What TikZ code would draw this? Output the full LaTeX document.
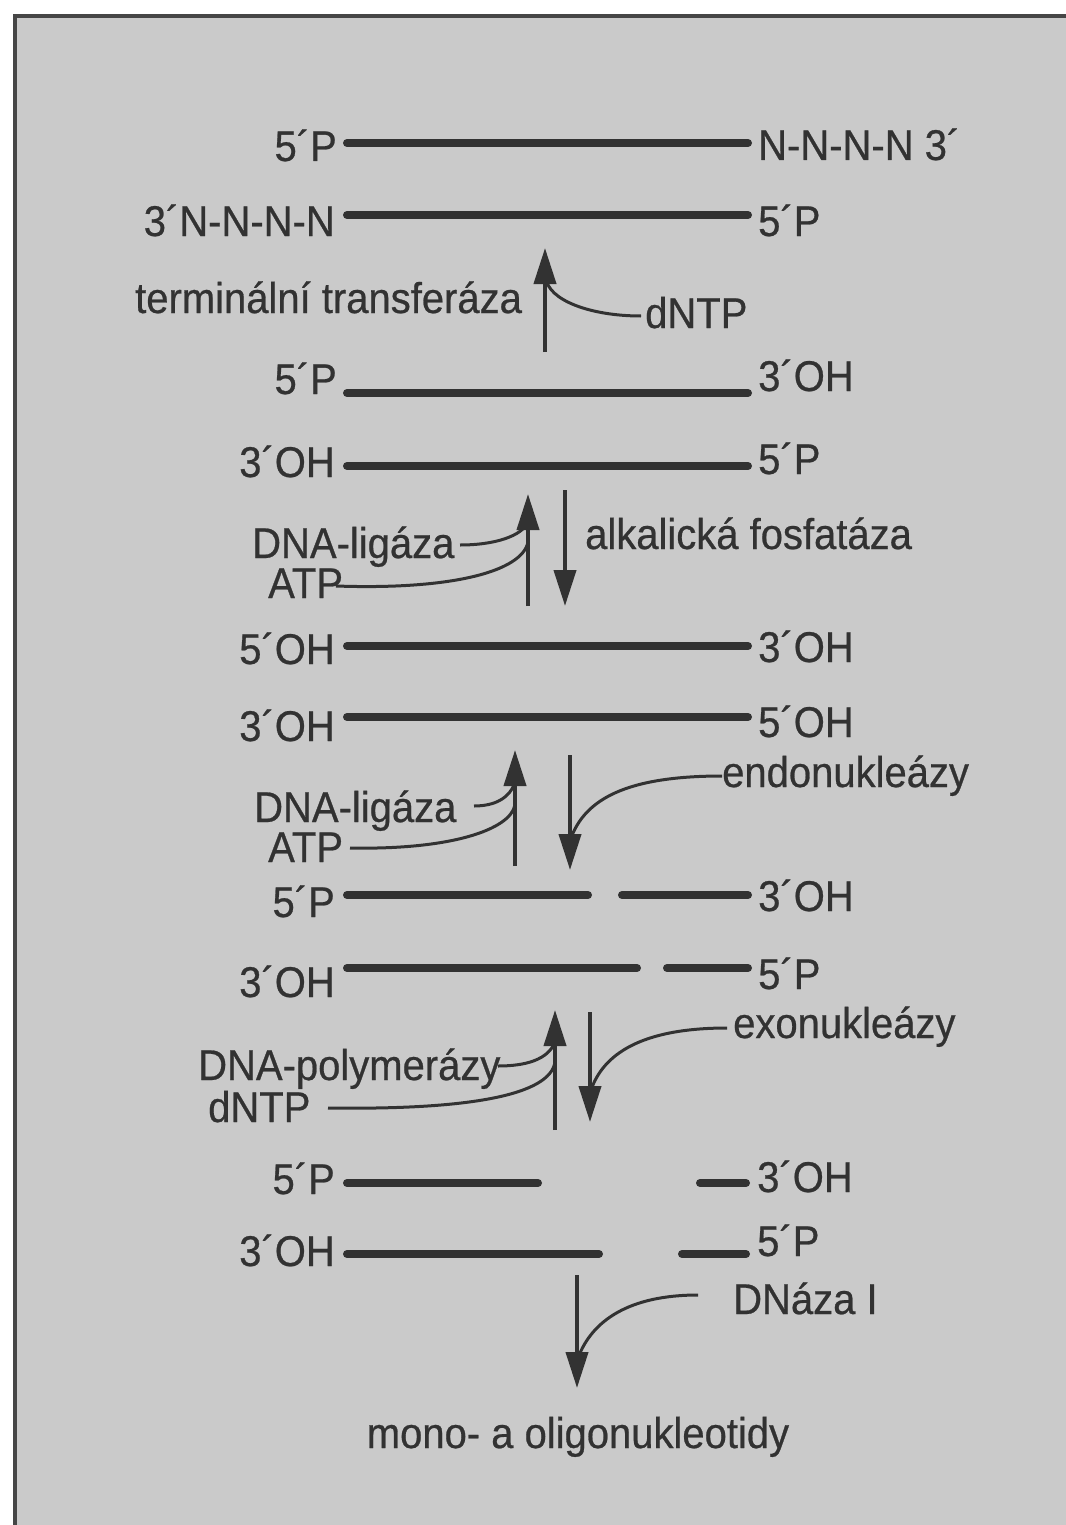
\documentclass[tikz,border=0pt]{standalone}
\usepackage{fontspec}
\setmainfont{Liberation Sans}[FakeStretch=0.93,FakeBold=0.6]
\usetikzlibrary{arrows.meta}
\definecolor{bg}{RGB}{202,202,202}
\definecolor{ink}{RGB}{50,50,50}
\definecolor{frame}{RGB}{70,70,70}
\begin{document}
\begin{tikzpicture}[x=1pt,y=-1pt,
  lab/.style={inner sep=0pt,text=ink,font=\fontsize{43}{50}\selectfont},
  ll/.style={lab,anchor=base east},
  rl/.style={lab,anchor=base west},
  strand/.style={draw=ink,line width=8pt,line cap=round},
  flow/.style={draw=ink,line width=4pt,-{Triangle[length=36pt,width=22pt]}},
  feed/.style={draw=ink,line width=3pt}]
\useasboundingbox (0,0) rectangle (1065,1525);
\fill[white] (0,0) rectangle (1065,1525);
\fill[bg] (15,16) rectangle (1075,1535);
\draw[frame,line width=4pt] (1075,16) -- (15,16) -- (15,1535);

% row 1-2
\node[ll] (l1) at (337,161) {5´P};
\node[rl] (r1) at (758,160) {N-N-N-N 3´};
\draw[strand] (347,143) -- (748,143);
\node[ll] (l2) at (335,236) {3´N-N-N-N};
\node[rl] (r2) at (758,236) {5´P};
\draw[strand] (347,215) -- (748,215);

% step 1
\coordinate (a1s) at (545,352);
\coordinate (a1e) at (545,248);
\draw[flow] (a1s) -- (a1e);
\node[rl] (tt) at (135,313) {terminální transferáza};
\node[rl] (dn1) at (645,328) {dNTP};
\draw[feed] (641,316) .. controls (590,316) and (548,300) .. (546,278);

% row 3-4
\node[ll] (l3) at (337,394) {5´P};
\node[rl] (r3) at (758,391) {3´OH};
\draw[strand] (347,393) -- (748,393);
\node[ll] (l4) at (335,477) {3´OH};
\node[rl] (r4) at (758,474) {5´P};
\draw[strand] (347,466) -- (748,466);

% step 2
\coordinate (a2s) at (528,606);
\coordinate (a2e) at (528,494);
\draw[flow] (a2s) -- (a2e);
\coordinate (b2s) at (565,490);
\coordinate (b2e) at (565,606);
\draw[flow] (b2s) -- (b2e);
\node[rl] (lig1) at (252,558) {DNA-ligáza};
\node[rl] (atp1) at (268,598) {ATP};
\node[rl] (af) at (585,549) {alkalická fosfatáza};
\draw[feed] (460,545) .. controls (495,545) and (522,536) .. (528,522);
\draw[feed] (336,586) .. controls (450,590) and (522,572) .. (528,542);

% row 5-6
\node[ll] (l5) at (335,664) {5´OH};
\node[rl] (r5) at (758,662) {3´OH};
\draw[strand] (347,646) -- (748,646);
\node[ll] (l6) at (335,741) {3´OH};
\node[rl] (r6) at (758,737) {5´OH};
\draw[strand] (347,717) -- (748,717);

% step 3
\coordinate (a3s) at (515,866);
\coordinate (a3e) at (515,750);
\draw[flow] (a3s) -- (a3e);
\coordinate (b3s) at (570,755);
\coordinate (b3e) at (570,870);
\draw[flow] (b3s) -- (b3e);
\node[rl] (endo) at (722,787) {endonukleázy};
\draw[feed] (722,776) .. controls (625,776) and (585,800) .. (571,838);
\node[rl] (lig2) at (254,822) {DNA-ligáza};
\node[rl] (atp2) at (268,862) {ATP};
\draw[feed] (474,806) .. controls (495,806) and (510,798) .. (515,782);
\draw[feed] (350,848) .. controls (450,850) and (510,830) .. (515,805);

% row 7-8
\node[ll] (l7) at (335,917) {5´P};
\node[rl] (r7) at (758,911) {3´OH};
\draw[strand] (347,895) -- (588,895);
\draw[strand] (622,895) -- (748,895);
\node[ll] (l8) at (335,997) {3´OH};
\node[rl] (r8) at (758,989) {5´P};
\draw[strand] (347,968) -- (637,968);
\draw[strand] (667,968) -- (748,968);

% step 4
\coordinate (a4s) at (555,1130);
\coordinate (a4e) at (555,1010);
\draw[flow] (a4s) -- (a4e);
\coordinate (b4s) at (590,1012);
\coordinate (b4e) at (590,1122);
\draw[flow] (b4s) -- (b4e);
\node[rl] (exo) at (733,1038) {exonukleázy};
\draw[feed] (727,1028) .. controls (640,1028) and (603,1055) .. (591,1090);
\node[rl] (pol) at (198,1080) {DNA-polymerázy};
\node[rl] (dn2) at (208,1122) {dNTP};
\draw[feed] (498,1066) .. controls (525,1066) and (548,1060) .. (555,1042);
\draw[feed] (328,1108) .. controls (470,1110) and (550,1095) .. (555,1062);

% row 9-10
\node[ll] (l9) at (335,1194) {5´P};
\node[rl] (r9) at (757,1192) {3´OH};
\draw[strand] (347,1183) -- (538,1183);
\draw[strand] (700,1183) -- (746,1183);
\node[ll] (l10) at (335,1266) {3´OH};
\node[rl] (r10) at (757,1256) {5´P};
\draw[strand] (347,1254) -- (599,1254);
\draw[strand] (682,1254) -- (746,1254);

% step 5
\coordinate (c5s) at (577,1275);
\coordinate (c5e) at (577,1388);
\draw[flow] (c5s) -- (c5e);
\node[rl] (dnaza) at (733,1314) {DNáza I};
\draw[feed] (698,1295) .. controls (630,1295) and (592,1320) .. (578,1358);
\node[lab,anchor=base] (mono) at (578,1448) {mono- a oligonukleotidy};
\end{tikzpicture}
\end{document}
